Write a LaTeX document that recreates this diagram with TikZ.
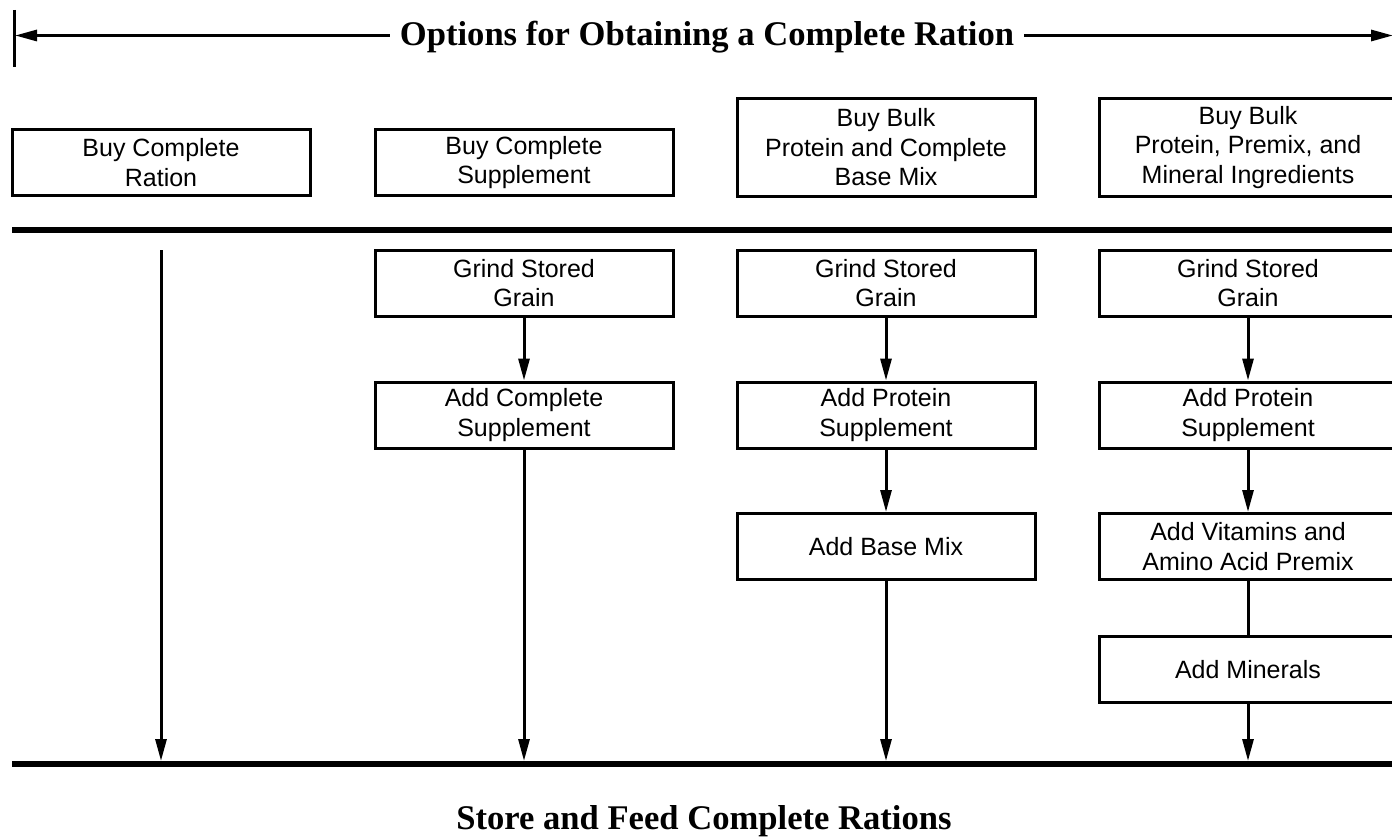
\documentclass[tikz,border=0pt]{standalone}
\usepackage{fontspec}
\setmainfont{Liberation Serif}
\setsansfont{Liberation Sans}
\usetikzlibrary{arrows.meta}
\begin{document}
\begin{tikzpicture}[x=0.5pt,y=-0.5pt,
  box/.style={draw, line width=1.5pt, minimum width=149pt, minimum height=33pt,
    align=center, inner sep=0pt,
    font=\sffamily\fontsize{12.5}{14.75}\selectfont},
  tallbox/.style={box, minimum height=48.5pt},
  flow/.style={line width=1.5pt, -{Triangle[length=11pt,width=5.5pt]}},
  plain/.style={line width=1.5pt},
  bar/.style={line width=3pt},
  heading/.style={font=\bfseries\fontsize{17.3}{20}\selectfont, anchor=base, fill=white, inner xsep=5pt, inner ysep=0pt}
]
\clip (0,0) rectangle (1392,840);
\fill[white] (0,0) rectangle (1392,840);

% title arrow
\draw[line width=1.5pt] (14,10) -- (14,67);
\coordinate (tl) at (15,35.5);
\coordinate (tr) at (1393,35.5);
\draw[line width=1.5pt, {Triangle[length=11pt,width=5.5pt]}-{Triangle[length=11pt,width=5.5pt]}] (tl) -- (tr);
\node[heading] (title) at (707,45.5) {Options for Obtaining a Complete Ration};

% top row
\node[box] (c1) at (161,162.5) {Buy Complete\\Ration};
\node[box] (c2) at (524,162.5) {Buy Complete\\Supplement};
\node[tallbox] (c3) at (886,147.5) {Buy Bulk\\Protein and Complete\\Base Mix};
\node[tallbox] (c4) at (1248,147.5) {Buy Bulk\\Protein, Premix, and\\Mineral Ingredients};

% bars
\draw[bar] (12,230) -- (1400,230);
\draw[bar] (12,764) -- (1400,764);

% column 1
\coordinate (s1) at (161,250);
\coordinate (e1) at (161,761);
\draw[flow] (s1) -- (e1);

% column 2
\node[box] (g2) at (524,283) {Grind Stored\\Grain};
\node[box] (a2) at (524,415) {Add Complete\\Supplement};
\coordinate (e2) at (524,761);
\draw[flow] (g2) -- (a2);
\draw[flow] (a2) -- (e2);

% column 3
\node[box] (g3) at (886,283) {Grind Stored\\Grain};
\node[box] (a3) at (886,415) {Add Protein\\Supplement};
\node[box] (m3) at (886,546.5) {Add Base Mix};
\coordinate (e3) at (886,761);
\draw[flow] (g3) -- (a3);
\draw[flow] (a3) -- (m3);
\draw[flow] (m3) -- (e3);

% column 4
\node[box] (g4) at (1248,283) {Grind Stored\\Grain};
\node[box] (a4) at (1248,415) {Add Protein\\Supplement};
\node[box] (v4) at (1248,546.5) {Add Vitamins and\\Amino Acid Premix};
\node[box] (n4) at (1248,669.5) {Add Minerals};
\coordinate (e4) at (1248,761);
\draw[flow] (g4) -- (a4);
\draw[flow] (a4) -- (v4);
\draw[plain] (v4) -- (n4);
\draw[flow] (n4) -- (e4);

% bottom heading
\node[heading] (foot) at (704,829.5) {Store and Feed Complete Rations};
\end{tikzpicture}
\end{document}
